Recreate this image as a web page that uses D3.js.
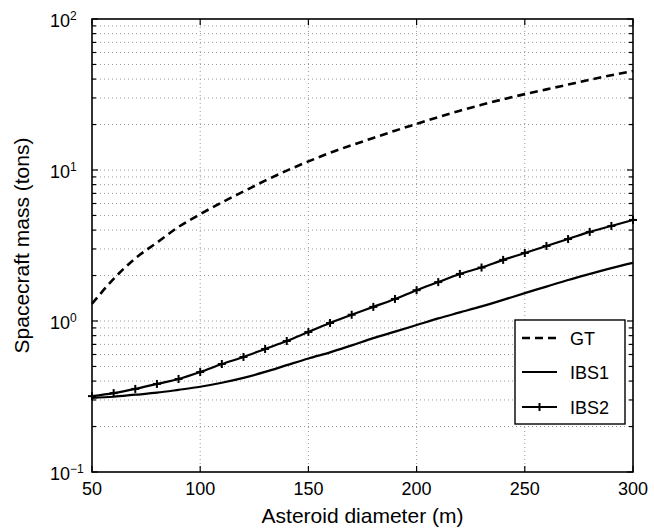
<!DOCTYPE html>
<html lang="en">
<head>
    <meta charset="UTF-8">
    <title>Spacecraft mass vs asteroid diameter</title>
    <script src="https://d3js.org/d3.v7.min.js"></script>
    <style>
        body { margin: 0; background: #fff; }
        svg { font-family: "Liberation Sans", Arial, sans-serif; }
        .grid line { stroke: #9a9a9a; stroke-width: 1; stroke-dasharray: 1,3; }
    </style>
</head>
<body>
    <script>
        const width = 654;
        const height = 530;
        const margin = { top: 19, right: 21, bottom: 58, left: 92 };

        // asteroid diameter (m)
        const diameters = [50, 60, 70, 80, 90, 100, 110, 120, 130, 140, 150, 160, 170,
            180, 190, 200, 210, 220, 230, 240, 250, 260, 270, 280, 290, 300];

        // spacecraft mass (tons)
        const gtMass = [1.3, 1.9, 2.6, 3.3, 4.2, 5.1, 6.1, 7.2, 8.5, 9.9, 11.4, 13.0, 14.6,
            16.3, 18.2, 20.2, 22.4, 24.7, 27.0, 29.4, 31.8, 34.2, 36.8, 39.6, 42.4, 45.3];
        const ibs1Mass = [0.31, 0.315, 0.325, 0.335, 0.35, 0.367, 0.39, 0.42, 0.46, 0.51, 0.565, 0.62, 0.69,
            0.77, 0.85, 0.94, 1.04, 1.14, 1.25, 1.38, 1.53, 1.69, 1.87, 2.05, 2.24, 2.43];
        const ibs2Mass = [0.318, 0.333, 0.355, 0.383, 0.413, 0.459, 0.519, 0.578, 0.653, 0.737, 0.846, 0.97, 1.10,
            1.24, 1.40, 1.60, 1.81, 2.05, 2.26, 2.54, 2.82, 3.14, 3.49, 3.89, 4.26, 4.67];

        const xTicks = [50, 100, 150, 200, 250, 300];
        const yDecades = [-1, 0, 1, 2];
        const legendLabels = ["GT", "IBS1", "IBS2"];

        const x = d3.scaleLinear().domain([50, 300]).range([margin.left, width - margin.right]);
        const y = d3.scaleLog().domain([0.1, 100]).range([height - margin.bottom, margin.top]);

        const minorY = [];
        for (let e = -1; e < 2; e++) {
            for (let m = 2; m <= 9; m++) minorY.push(m * Math.pow(10, e));
        }
        const majorY = yDecades.map(e => Math.pow(10, e));

        const svg = d3.select("body").append("svg")
            .attr("width", width)
            .attr("height", height);

        // dotted grid
        const grid = svg.append("g").attr("class", "grid");
        grid.selectAll(".gy")
            .data(majorY.concat(minorY).filter(v => v > 0.1 && v < 100))
            .enter().append("line")
            .attr("x1", x.range()[0]).attr("x2", x.range()[1])
            .attr("y1", d => y(d)).attr("y2", d => y(d));
        grid.selectAll(".gx")
            .data(xTicks.slice(1, -1))
            .enter().append("line")
            .attr("y1", y.range()[0]).attr("y2", y.range()[1])
            .attr("x1", d => x(d)).attr("x2", d => x(d));

        // ticks, inward on all four sides
        const ticks = svg.append("g").attr("stroke", "#000").attr("stroke-width", 1.2);
        xTicks.forEach(t => {
            ticks.append("line").attr("x1", x(t)).attr("x2", x(t))
                .attr("y1", y.range()[0]).attr("y2", y.range()[0] - 6);
            ticks.append("line").attr("x1", x(t)).attr("x2", x(t))
                .attr("y1", y.range()[1]).attr("y2", y.range()[1] + 6);
        });
        majorY.concat(minorY).forEach(v => {
            const len = majorY.includes(v) ? 6 : 4;
            ticks.append("line").attr("y1", y(v)).attr("y2", y(v))
                .attr("x1", x.range()[0]).attr("x2", x.range()[0] + len);
            ticks.append("line").attr("y1", y(v)).attr("y2", y(v))
                .attr("x1", x.range()[1]).attr("x2", x.range()[1] - len);
        });

        // curves
        const line = d3.line()
            .curve(d3.curveMonotoneX)
            .x(d => x(d[0]))
            .y(d => y(d[1]));

        const gtData = d3.zip(diameters, gtMass);
        const ibs1Data = d3.zip(diameters, ibs1Mass);
        const ibs2Data = d3.zip(diameters, ibs2Mass);

        svg.append("path").datum(gtData)
            .attr("d", line).attr("fill", "none")
            .attr("stroke", "#000").attr("stroke-width", 2.6)
            .attr("stroke-dasharray", "8,5");
        svg.append("path").datum(ibs1Data)
            .attr("d", line).attr("fill", "none")
            .attr("stroke", "#000").attr("stroke-width", 2.2);
        svg.append("path").datum(ibs2Data)
            .attr("d", line).attr("fill", "none")
            .attr("stroke", "#000").attr("stroke-width", 2.2);

        const plus = (g, cx, cy, r) => {
            g.append("line").attr("x1", cx - r).attr("x2", cx + r).attr("y1", cy).attr("y2", cy);
            g.append("line").attr("x1", cx).attr("x2", cx).attr("y1", cy - r).attr("y2", cy + r);
        };
        const markers = svg.append("g").attr("stroke", "#000").attr("stroke-width", 2);
        ibs2Data.forEach(d => plus(markers, x(d[0]), y(d[1]), 4));

        // frame
        svg.append("rect")
            .attr("x", x.range()[0]).attr("y", y.range()[1])
            .attr("width", x.range()[1] - x.range()[0])
            .attr("height", y.range()[0] - y.range()[1])
            .attr("fill", "none").attr("stroke", "#000").attr("stroke-width", 1.6);

        // tick labels
        svg.selectAll(".xl")
            .data(xTicks)
            .enter().append("text")
            .attr("x", d => x(d))
            .attr("y", 495)
            .attr("text-anchor", "middle")
            .attr("font-size", 18)
            .text(d => d);

        yDecades.forEach(e => {
            const t = svg.append("text")
                .attr("x", 50)
                .attr("y", y(Math.pow(10, e)) + 8)
                .attr("font-size", 18);
            t.append("tspan").text("10");
            t.append("tspan")
                .attr("font-size", 12)
                .attr("dy", -7)
                .text(e < 0 ? "\u2212" + Math.abs(e) : e);
        });

        // axis titles
        svg.append("text")
            .attr("x", (x.range()[0] + x.range()[1]) / 2)
            .attr("y", 523)
            .attr("text-anchor", "middle")
            .attr("font-size", 21)
            .text("Asteroid diameter (m)");

        svg.append("text")
            .attr("transform", `translate(29,${(y.range()[0] + y.range()[1]) / 2}) rotate(-90)`)
            .attr("text-anchor", "middle")
            .attr("font-size", 21)
            .text("Spacecraft mass (tons)");

        // legend
        const legend = svg.append("g");
        legend.append("rect")
            .attr("x", 515).attr("y", 320)
            .attr("width", 110).attr("height", 104)
            .attr("fill", "#fff").attr("stroke", "#000").attr("stroke-width", 1.4);

        const rowY = [338, 372, 407];
        legendLabels.forEach((name, i) => {
            const ly = rowY[i];
            const l = legend.append("line")
                .attr("x1", 522).attr("x2", 557)
                .attr("y1", ly).attr("y2", ly)
                .attr("stroke", "#000").attr("stroke-width", i === 0 ? 2.6 : 2.2);
            if (i === 0) l.attr("stroke-dasharray", "8,5");
            if (i === 2) {
                const mg = legend.append("g").attr("stroke", "#000").attr("stroke-width", 2);
                plus(mg, 539.5, ly, 4);
            }
            legend.append("text")
                .attr("x", 570)
                .attr("y", ly + 7)
                .attr("font-size", 18)
                .text(name);
        });
    </script>
</body>
</html>
